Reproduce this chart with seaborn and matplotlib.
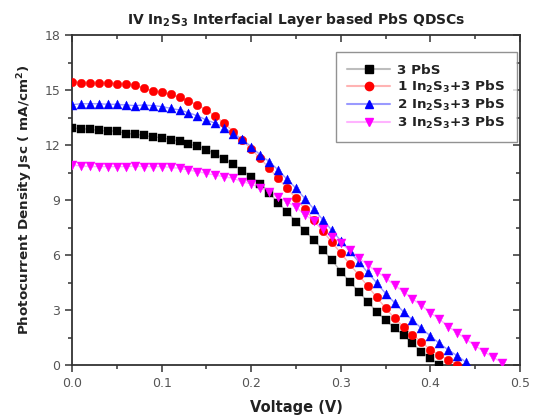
import numpy as np
import pandas as pd
import matplotlib
matplotlib.use('Agg')
import matplotlib.pyplot as plt
from matplotlib.lines import Line2D
from matplotlib.ticker import MultipleLocator
import seaborn as sns

# Napiecie (V), krok 0.01 V
voltage = [0.00, 0.01, 0.02, 0.03, 0.04, 0.05, 0.06, 0.07, 0.08, 0.09,
           0.10, 0.11, 0.12, 0.13, 0.14, 0.15, 0.16, 0.17, 0.18, 0.19,
           0.20, 0.21, 0.22, 0.23, 0.24, 0.25, 0.26, 0.27, 0.28, 0.29,
           0.30, 0.31, 0.32, 0.33, 0.34, 0.35, 0.36, 0.37, 0.38, 0.39,
           0.40, 0.41, 0.42, 0.43, 0.44, 0.45, 0.46, 0.47, 0.48]

# Gestosc pradu Jsc (mA/cm2)
j_3pbs = [12.93, 12.90, 12.85, 12.80, 12.75, 12.78, 12.62, 12.60, 12.52, 12.45,
          12.40, 12.30, 12.20, 12.05, 11.95, 11.75, 11.50, 11.22, 10.95, 10.60,
          10.27, 9.90, 9.40, 8.85, 8.36, 7.82, 7.31, 6.82, 6.27, 5.73,
          5.10, 4.55, 4.00, 3.45, 2.90, 2.45, 2.00, 1.64, 1.18, 0.73,
          0.36, 0.02]
j_1in = [15.46, 15.40, 15.38, 15.38, 15.38, 15.35, 15.33, 15.28, 15.10, 14.97,
         14.87, 14.76, 14.60, 14.42, 14.19, 13.91, 13.58, 13.18, 12.73, 12.27,
         11.77, 11.28, 10.73, 10.18, 9.64, 9.09, 8.50, 7.90, 7.30, 6.70,
         6.10, 5.50, 4.90, 4.30, 3.70, 3.10, 2.55, 2.09, 1.64, 1.27,
         0.82, 0.55, 0.27, 0.02]
j_2in = [14.20, 14.25, 14.25, 14.25, 14.22, 14.22, 14.18, 14.15, 14.18, 14.15,
         14.10, 14.00, 13.91, 13.77, 13.59, 13.37, 13.18, 12.95, 12.60, 12.31,
         11.91, 11.46, 11.10, 10.64, 10.13, 9.64, 9.07, 8.50, 7.92, 7.35,
         6.78, 6.20, 5.63, 5.05, 4.48, 3.90, 3.40, 2.90, 2.45, 2.00,
         1.58, 1.18, 0.82, 0.50, 0.15]
j_3in = [10.92, 10.85, 10.83, 10.82, 10.82, 10.82, 10.82, 10.85, 10.82, 10.82,
         10.82, 10.78, 10.73, 10.64, 10.55, 10.45, 10.36, 10.27, 10.18, 10.00,
         9.88, 9.65, 9.45, 9.15, 8.90, 8.60, 8.20, 7.85, 7.40, 7.00,
         6.65, 6.25, 5.85, 5.45, 5.10, 4.75, 4.35, 4.00, 3.60, 3.25,
         2.85, 2.50, 2.10, 1.75, 1.40, 1.05, 0.72, 0.42, 0.12]

labels = ['3 PbS', '1 In$_\\mathbf{2}$S$_\\mathbf{3}$+3 PbS',
          '2 In$_\\mathbf{2}$S$_\\mathbf{3}$+3 PbS', '3 In$_\\mathbf{2}$S$_\\mathbf{3}$+3 PbS']
series = [j_3pbs, j_1in, j_2in, j_3in]
kolory = ['#000000', '#ff0000', '#0000ff', '#ff00ff']
kolory_linii = ['#bdbdbd', '#ffb3b3', '#9a9aff', '#ffb3ff']
markery = ['s', 'o', '^', 'v']
rozmiary = [30, 38, 42, 42]

rows = []
for lab, jj in zip(labels, series):
    for v, j in zip(voltage, jj):
        rows.append({'sample': lab, 'V': v, 'J': j})
df = pd.DataFrame(rows)

sns.set_style('ticks')
plt.rcParams['font.family'] = ['DejaVu Sans']
plt.rcParams['mathtext.fontset'] = 'dejavusans'

fig = plt.figure(figsize=(5.35, 4.17), dpi=100)
ax = fig.add_axes([0.1346, 0.1247, 0.8374, 0.7913])

sns.lineplot(data=df, x='V', y='J', hue='sample', hue_order=labels,
             palette=kolory_linii, linewidth=1.0, legend=False, ax=ax, zorder=1)
for lab, c, m, s in zip(labels, kolory, markery, rozmiary):
    sub = df[df['sample'] == lab]
    sns.scatterplot(data=sub, x='V', y='J', color=c, marker=m, s=s,
                    edgecolor=c, linewidth=0.3, legend=False, ax=ax, zorder=3)

ax.set_xlim(0, 0.5)
ax.set_ylim(0, 18)
ax.xaxis.set_major_locator(MultipleLocator(0.1))
ax.xaxis.set_minor_locator(MultipleLocator(0.05))
ax.yaxis.set_major_locator(MultipleLocator(3))
ax.yaxis.set_minor_locator(MultipleLocator(1.5))
ax.xaxis.set_major_formatter(plt.FuncFormatter(lambda v, p: f'{v:.1f}'))

for sp in ax.spines.values():
    sp.set_visible(True)
    sp.set_linewidth(1.3)
    sp.set_color('#333333')

ax.tick_params(which='both', direction='out', color='#333333', width=1.1,
               labelsize=9, labelcolor='#555555')
ax.tick_params(which='major', length=5)
ax.tick_params(which='minor', length=3)
# gorna i prawa os - kreski do srodka
ax2 = ax.secondary_xaxis('top')
ax2.xaxis.set_major_locator(MultipleLocator(0.1))
ax2.xaxis.set_minor_locator(MultipleLocator(0.05))
ax2.tick_params(which='both', direction='in', labeltop=False, color='#333333', width=1.1)
ax2.tick_params(which='major', length=5)
ax2.tick_params(which='minor', length=3)
ax3 = ax.secondary_yaxis('right')
ax3.yaxis.set_major_locator(MultipleLocator(3))
ax3.yaxis.set_minor_locator(MultipleLocator(1.5))
ax3.tick_params(which='both', direction='in', labelright=False, color='#333333', width=1.1)
ax3.tick_params(which='major', length=5)
ax3.tick_params(which='minor', length=3)
ax2.spines['top'].set_visible(False)
ax3.spines['right'].set_visible(False)

ax.set_xlabel('Voltage (V)', fontsize=10.5, fontweight='bold', labelpad=7, color='#222222')
ax.set_ylabel('Photocurrent Density Jsc ( mA/cm$^\\mathbf{2}$)', fontsize=9.7,
              fontweight='bold', labelpad=7, color='#222222')
ax.set_title('IV In$_\\mathbf{2}$S$_\\mathbf{3}$ Interfacial Layer based PbS QDSCs',
             fontsize=10, fontweight='bold', pad=8, color='#222222')

handles = []
for c, lc, m in zip(kolory, kolory_linii, markery):
    handles.append(Line2D([], [], color=lc, lw=1.5, marker=m, markersize=6,
                          markerfacecolor=c, markeredgecolor=c))
leg = ax.legend(handles, labels, loc='upper right', bbox_to_anchor=(0.993, 0.948),
                frameon=True, fancybox=False, handlelength=3.2, handletextpad=0.5,
                borderpad=0.85, labelspacing=0.15, borderaxespad=0,
                prop={'weight': 'bold', 'size': 9.7})
leg.get_frame().set_edgecolor('#777777')
leg.get_frame().set_linewidth(1.0)
for t in leg.get_texts():
    t.set_color('#222222')

plt.savefig('out.png', dpi=100)
plt.close()
